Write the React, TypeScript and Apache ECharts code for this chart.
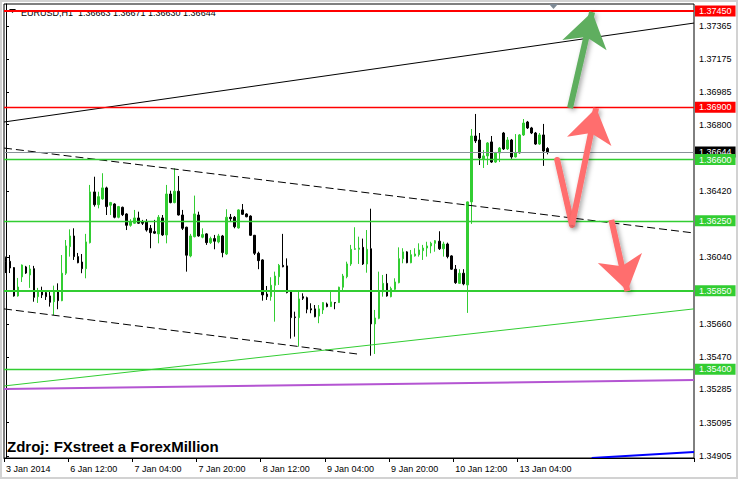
import React, { useEffect, useRef } from "react";
import * as echarts from "echarts";

// ---- candle data (EURUSD H1), index 0 = 3 Jan 2014 20:00 ----
const opens = [
  1.36039, 1.36018, 1.35982, 1.3582, 1.35929, 1.35986, 1.3594, 1.35976, 1.35816, 1.35844,
  1.35839, 1.3582, 1.35787, 1.35844, 1.35793, 1.3595, 1.36102, 1.36163, 1.36045, 1.36014,
  1.35976, 1.36125, 1.36415, 1.36342, 1.36375, 1.36438, 1.36339, 1.36346, 1.3627, 1.36327,
  1.36289, 1.36224, 1.36236, 1.36266, 1.36243, 1.36243, 1.36207, 1.36188, 1.36175, 1.36266,
  1.36169, 1.36403, 1.36354, 1.36419, 1.36283, 1.36213, 1.36049, 1.36159, 1.36283, 1.36156,
  1.36175, 1.36125, 1.36148, 1.36129, 1.36163, 1.3606, 1.3627, 1.3627, 1.36209, 1.36312,
  1.36289, 1.36277, 1.36167, 1.36064, 1.36026, 1.35831, 1.35816, 1.35881, 1.3593, 1.35995,
  1.35992, 1.35844, 1.357, 1.35696, 1.35816, 1.3581, 1.35747, 1.35746, 1.35705, 1.3574,
  1.35774, 1.35759, 1.35782, 1.35782, 1.3587, 1.3593, 1.36003, 1.36087, 1.36087, 1.36098,
  1.36003, 1.3609, 1.3566, 1.35692, 1.35844, 1.35892, 1.35816, 1.35858, 1.35896, 1.36033,
  1.36072, 1.3601, 1.36049, 1.36056, 1.36079, 1.36094, 1.36106, 1.36121, 1.36133, 1.3609,
  1.36117, 1.36049, 1.35973, 1.35892, 1.3595, 1.35883, 1.36358, 1.36735, 1.36712, 1.36604,
  1.36621, 1.36701, 1.36586, 1.36638, 1.36752, 1.36661, 1.36712, 1.36615, 1.36638, 1.36741,
  1.36815, 1.36781, 1.36752, 1.36689, 1.36741, 1.36663,
];
const closes = [
  1.36016, 1.3598, 1.3582, 1.35871, 1.35997, 1.35951, 1.35974, 1.35812, 1.35848, 1.35826,
  1.35816, 1.35784, 1.35844, 1.35793, 1.3595, 1.36106, 1.36163, 1.36045, 1.3601, 1.35976,
  1.36129, 1.36415, 1.36342, 1.36388, 1.36438, 1.36331, 1.36354, 1.3627, 1.36331, 1.36285,
  1.36224, 1.36245, 1.36266, 1.36236, 1.36236, 1.36197, 1.36182, 1.36179, 1.3627, 1.36169,
  1.36403, 1.36354, 1.36419, 1.36283, 1.36207, 1.36053, 1.36163, 1.36289, 1.36163, 1.36171,
  1.36125, 1.36148, 1.36133, 1.36163, 1.36068, 1.3627, 1.36262, 1.36216, 1.36312, 1.36287,
  1.36273, 1.36167, 1.36064, 1.36022, 1.35826, 1.35816, 1.35881, 1.35934, 1.35995, 1.35987,
  1.35839, 1.35696, 1.35696, 1.35803, 1.35807, 1.35744, 1.3574, 1.35701, 1.35746, 1.35782,
  1.35759, 1.35786, 1.3578, 1.3587, 1.35934, 1.36003, 1.36087, 1.3609, 1.36094, 1.36003,
  1.36087, 1.3566, 1.35694, 1.3585, 1.35892, 1.3582, 1.35862, 1.359, 1.36033, 1.36072,
  1.3601, 1.36056, 1.3606, 1.36083, 1.36094, 1.36106, 1.36121, 1.36136, 1.3609, 1.36117,
  1.36045, 1.35973, 1.35896, 1.3595, 1.35889, 1.36358, 1.36735, 1.36707, 1.36609, 1.36621,
  1.36695, 1.36586, 1.36638, 1.36666, 1.36661, 1.36712, 1.36615, 1.36638, 1.36741, 1.36809,
  1.36781, 1.36752, 1.36689, 1.36741, 1.36649, 1.36644,
];
const lows = [
  1.35951, 1.35951, 1.35816, 1.35816, 1.359, 1.35946, 1.35866, 1.35787, 1.3578, 1.35808,
  1.35797, 1.35759, 1.35711, 1.35744, 1.3579, 1.3594, 1.36045, 1.36026, 1.36007, 1.3595,
  1.35921, 1.3612, 1.36331, 1.36321, 1.3637, 1.36283, 1.36283, 1.36264, 1.36264, 1.36277,
  1.36197, 1.36216, 1.36232, 1.36232, 1.36226, 1.36188, 1.36093, 1.36175, 1.36121, 1.36163,
  1.36121, 1.3635, 1.3635, 1.3628, 1.36197, 1.35959, 1.36041, 1.36155, 1.36159, 1.3615,
  1.36112, 1.36117, 1.36087, 1.36121, 1.36041, 1.36054, 1.36245, 1.36207, 1.36205, 1.36283,
  1.3627, 1.36163, 1.36054, 1.35973, 1.35793, 1.35797, 1.35793, 1.35673, 1.35883, 1.35984,
  1.35835, 1.35576, 1.35587, 1.3553, 1.35797, 1.35721, 1.35721, 1.35698, 1.35664, 1.35717,
  1.35755, 1.35757, 1.35744, 1.3578, 1.35854, 1.35921, 1.35992, 1.36083, 1.36003, 1.35997,
  1.35953, 1.35478, 1.35488, 1.35687, 1.35816, 1.35816, 1.35812, 1.3585, 1.35892, 1.36007,
  1.36007, 1.36007, 1.36045, 1.36045, 1.36026, 1.36045, 1.36064, 1.36073, 1.36083, 1.36045,
  1.36035, 1.35969, 1.35889, 1.35889, 1.35881, 1.35723, 1.36232, 1.36695, 1.36569, 1.36552,
  1.36569, 1.36581, 1.36581, 1.36586, 1.36655, 1.36655, 1.36604, 1.36612, 1.36632, 1.36735,
  1.36775, 1.36746, 1.36684, 1.36684, 1.36564, 1.3663,
];
const highs = [
  1.36045, 1.36054, 1.35985, 1.35923, 1.36, 1.35992, 1.35997, 1.35992, 1.35866, 1.35873,
  1.35844, 1.35844, 1.35879, 1.35892, 1.36054, 1.3614, 1.36201, 1.36207, 1.36066, 1.3606,
  1.36175, 1.36455, 1.36502, 1.36416, 1.36522, 1.36445, 1.36358, 1.3635, 1.36335, 1.36331,
  1.36293, 1.36259, 1.36312, 1.36302, 1.36255, 1.36259, 1.36226, 1.36255, 1.36283, 1.36283,
  1.36455, 1.36422, 1.3655, 1.36506, 1.36312, 1.36216, 1.36175, 1.36394, 1.36302, 1.36207,
  1.36179, 1.36159, 1.36169, 1.36175, 1.36169, 1.36316, 1.36289, 1.36277, 1.36316, 1.36346,
  1.36293, 1.36281, 1.36169, 1.36073, 1.3603, 1.35877, 1.35927, 1.35959, 1.36003, 1.36175,
  1.36035, 1.35847, 1.3573, 1.35844, 1.35835, 1.35816, 1.35778, 1.35768, 1.35768, 1.35785,
  1.35782, 1.35848, 1.35784, 1.35873, 1.35946, 1.36016, 1.36112, 1.36213, 1.36159, 1.36148,
  1.36197, 1.36319, 1.3574, 1.35959, 1.3594, 1.35946, 1.35873, 1.35921, 1.36098, 1.36093,
  1.36076, 1.36083, 1.36093, 1.36121, 1.36112, 1.3613, 1.3613, 1.3614, 1.3619, 1.3613,
  1.36125, 1.36053, 1.35997, 1.35973, 1.35973, 1.3636, 1.36775, 1.36861, 1.36752, 1.36655,
  1.367, 1.36735, 1.36644, 1.36672, 1.36758, 1.36729, 1.36718, 1.36746, 1.36746, 1.36832,
  1.36821, 1.36787, 1.36758, 1.36752, 1.36804, 1.36671,
];

// ---- axes ----
const SLOTS = 172; // bar slots visible (incl. chart shift space on the right)
const xTickIndex = [0, 16, 32, 48, 64, 80, 96, 112, 128];
const xTickLabels = [
  "3 Jan 2014", "6 Jan 12:00", "7 Jan 04:00", "7 Jan 20:00", "8 Jan 12:00",
  "9 Jan 04:00", "9 Jan 20:00", "10 Jan 12:00", "13 Jan 04:00",
];
const yTicks = [1.34905, 1.35095, 1.35285, 1.3547, 1.3566, 1.3604, 1.3642, 1.368, 1.36985, 1.37175, 1.37365];
const yMin = 1.34893;
const yMax = 1.3749;

// ---- horizontal levels ----
const levelValues = [1.36644, 1.3745, 1.369, 1.366, 1.3625, 1.3585, 1.354];
const levelColors = ["#8a929a", "#ff0000", "#ff0000", "#32cd32", "#32cd32", "#32cd32", "#32cd32"];
const levelLabelBg = ["#000000", "#ff0000", "#ff0000", "#32cd32", "#32cd32", "#32cd32", "#32cd32"];
const levelWidths = [1, 2, 1.4, 1.4, 1.4, 2, 1.4];

// ---- trend lines: [[barIndex, price], [barIndex, price]] ----
const trendCoords = [
  [[-0.5, 1.36815], [171.5, 1.37381]],
  [[-0.5, 1.36666], [171.5, 1.3618]],
  [[-0.5, 1.35746], [87.5, 1.35488]],
  [[-0.5, 1.35305], [171.5, 1.35746]],
  [[-0.5, 1.35288], [171.5, 1.35339]],
  [[146.0, 1.34893], [171.5, 1.34928]],
];
const trendColors = ["#000000", "#000000", "#000000", "#32cd32", "#b455d2", "#0000ff"];
const trendWidths = [1, 1, 1, 1, 2, 2];
const trendDashed = [false, true, true, false, false, false];

// ---- hand-drawn arrows (tail -> tip) ----
const arrowHeadCoords = [
  [[140.6, 1.36895], [146.1, 1.37444]],
  [[141.1, 1.36226], [147.1, 1.36895]],
  [[150.9, 1.36255], [154.9, 1.35848]],
];
const arrowHeadColors = ["#5fae5f", "#ff6e6e", "#ff6e6e"];
const arrowTailCoords = [[[137.4, 1.36598], [141.1, 1.36226]]];
const arrowTailColors = ["#ff6e6e"];

const FONT = "Liberation Sans";

export default function App() {
  const ref = useRef<HTMLDivElement>(null);

  useEffect(() => {
    if (!ref.current) return;
    const chart = echarts.init(ref.current, undefined, { renderer: "svg" });

    const categories = Array.from({ length: SLOTS }, (_, i) => String(i));
    const tickSet = new Set(xTickIndex);
    const labelMap: Record<string, string> = {};
    xTickIndex.forEach((k, i) => (labelMap[String(k)] = xTickLabels[i]));
    const candleData = opens.map((o, i) => [o, closes[i], lows[i], highs[i]]);
    const last = opens.length - 1;
    const header = `EURUSD,H1  ${opens[last].toFixed(5)} ${highs[last].toFixed(5)} ${lows[last].toFixed(5)} ${closes[last].toFixed(5)}`;

    const shadow = { shadowBlur: 5, shadowColor: "rgba(0,0,0,0.35)", shadowOffsetX: 2, shadowOffsetY: 2 };

    const option: any = {
      animation: false,
      backgroundColor: "#ffffff",
      textStyle: { fontFamily: FONT },
      grid: {
        left: 4, top: 4, right: 44, bottom: 21,
        show: true, borderColor: "#000", borderWidth: 1, backgroundColor: "transparent",
      },
      xAxis: [
        {
          type: "category",
          data: categories,
          boundaryGap: true,
          axisLine: { show: true, lineStyle: { color: "#000", width: 1 } },
          axisTick: {
            show: true, length: 4,
            interval: (i: number) => tickSet.has(i),
            lineStyle: { color: "#000" },
          },
          axisLabel: {
            show: true,
            interval: (i: number) => tickSet.has(i),
            formatter: (v: string) => labelMap[v] ?? "",
            align: "left", margin: 6, fontSize: 9, color: "#000", fontFamily: FONT,
          },
          splitLine: { show: false },
        },
        { type: "value", min: -0.5, max: SLOTS - 0.5, show: false, gridIndex: 0 },
      ],
      yAxis: {
        type: "value",
        position: "right",
        min: yMin, max: yMax,
        axisLine: { show: true, lineStyle: { color: "#000" } },
        axisTick: { show: true, length: 3, customValues: yTicks, lineStyle: { color: "#000" } },
        axisLabel: {
          customValues: yTicks,
          formatter: (v: number) => v.toFixed(5),
          margin: 5, fontSize: 9, color: "#000", fontFamily: FONT,
        },
        splitLine: { show: false },
      },
      graphic: [
        { type: "rect", z: 0, shape: { x: 1, y: 1, width: 736, height: 477 }, style: { fill: "none", stroke: "#d2d2d2", lineWidth: 2 }, silent: true },
        { type: "polygon", z: 0, shape: { points: [[9, 9], [16, 9], [12.5, 13]] }, style: { fill: "#000" }, silent: true },
        { type: "polygon", z: 0, shape: { points: [[549, 4], [558, 4], [553.5, 9]] }, style: { fill: "#7d8a96" }, silent: true },
        { type: "text", z: 0, left: 21, top: 8, style: { text: header, font: `9px "${FONT}"`, fill: "#000" }, silent: true },
        { type: "text", z: 0, left: 7, top: 439, style: { text: "Zdroj: FXstreet a ForexMillion", font: `bold 15px "${FONT}"`, fill: "#000" }, silent: true },
      ],
      series: [
        {
          type: "candlestick",
          xAxisIndex: 0, yAxisIndex: 0,
          data: candleData,
          barWidth: 2,
          itemStyle: {
            color: "#32cd32", color0: "#000000",
            borderColor: "#32cd32", borderColor0: "#000000", borderWidth: 1,
          },
          z: 2,
        },
        {
          type: "lines",
          coordinateSystem: "cartesian2d",
          xAxisIndex: 1, yAxisIndex: 0,
          symbol: "none",
          silent: true,
          z: 3,
          data: trendCoords.map((c, i) => ({
            coords: c,
            lineStyle: {
              color: trendColors[i], width: trendWidths[i],
              type: trendDashed[i] ? [8, 4] : "solid", opacity: 1,
            },
          })),
        },
        {
          // horizontal price levels with their right-hand price tags
          type: "lines",
          coordinateSystem: "cartesian2d",
          xAxisIndex: 1, yAxisIndex: 0,
          symbol: "none",
          silent: true,
          clip: false,
          z: 4,
          data: levelValues.map((v, i) => ({
            coords: [[-0.5, v], [SLOTS - 0.5, v]],
            lineStyle: { color: levelColors[i], width: levelWidths[i], type: "solid", opacity: 1 },
            label: {
              show: true, position: "end", distance: 1,
              formatter: v.toFixed(5),
              color: "#fff", backgroundColor: levelLabelBg[i],
              padding: [1, 4, 1, 4], fontSize: 9, fontFamily: FONT,
            },
          })),
        },
        {
          type: "lines",
          coordinateSystem: "cartesian2d",
          xAxisIndex: 1, yAxisIndex: 0,
          symbol: "none",
          silent: true,
          z: 5,
          data: arrowTailCoords.map((c, i) => ({
            coords: c,
            lineStyle: { color: arrowTailColors[i], width: 6, opacity: 1, cap: "round", ...shadow },
          })),
        },
        {
          type: "lines",
          coordinateSystem: "cartesian2d",
          xAxisIndex: 1, yAxisIndex: 0,
          symbol: ["none", "arrow"],
          symbolSize: [14, 34],
          silent: true,
          z: 5,
          data: arrowHeadCoords.map((c, i) => ({
            coords: c,
            lineStyle: { color: arrowHeadColors[i], width: 6, opacity: 1, ...shadow },
          })),
        },
      ],
    };

    chart.setOption(option);
    return () => chart.dispose();
  }, []);

  return (
    <div
      ref={ref}
      style={{ position: "fixed", left: 0, top: 0, width: 738, height: 479, background: "#fff" }}
    />
  );
}
